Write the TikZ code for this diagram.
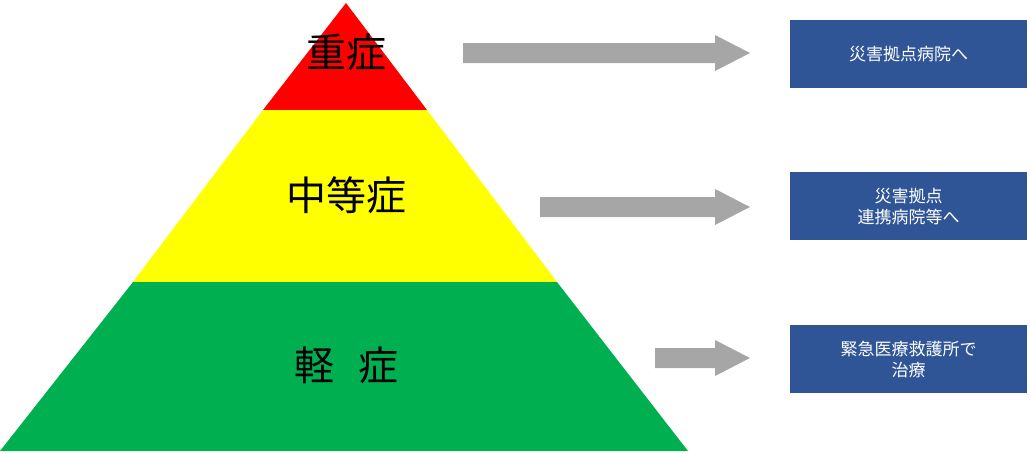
\documentclass[tikz,border=0pt]{standalone}
\usepackage{fontspec}
\setmainfont{Noto Sans CJK JP}
\definecolor{navy}{HTML}{2F5597}
\definecolor{gr}{HTML}{00B050}
\definecolor{ye}{HTML}{FFFF00}
\definecolor{re}{HTML}{FF0000}
\definecolor{ag}{HTML}{A6A6A6}
\tikzset{
 lvl/.style={font=\fontsize{40}{44}\selectfont, text=black},
 dest/.style={fill=navy, text=white, font=\fontsize{17}{21}\selectfont, minimum width=237pt, minimum height=68pt, align=center, inner sep=2pt, anchor=north west},
 blk/.style={fill=ag, draw=none}
}
\begin{document}
\begin{tikzpicture}[x=1pt,y=-1pt]
\useasboundingbox (0,0) rectangle (1030,453);
\fill[re] (346,3) -- (427,110) -- (263,110) -- cycle;
\fill[ye] (263,110) -- (427,110) -- (557,282) -- (133,282) -- cycle;
\fill[gr] (133,282) -- (557,282) -- (688,451) -- (0,451) -- cycle;
\node[lvl] (l1) at (346,52) {重症};
\node[lvl] (l2) at (346,195) {中等症};
\node[lvl] (l3) at (346,365) {軽\hspace{0.6em}症};
\node[dest] (d1) at (790,20) {災害拠点病院へ};
\node[dest] (d2) at (790,172) {災害拠点\\連携病院等へ};
\node[dest] (d3) at (790,325) {緊急医療救護所で\\治療};
\fill[blk] (463,43) -- (715,43) -- (715,35) -- (750,53) -- (715,71) -- (715,63) -- (463,63) -- cycle;
\fill[blk] (540,197) -- (715,197) -- (715,189) -- (750,207) -- (715,225) -- (715,217) -- (540,217) -- cycle;
\fill[blk] (655,348) -- (715,348) -- (715,340) -- (750,358) -- (715,376) -- (715,368) -- (655,368) -- cycle;
\end{tikzpicture}
\end{document}
